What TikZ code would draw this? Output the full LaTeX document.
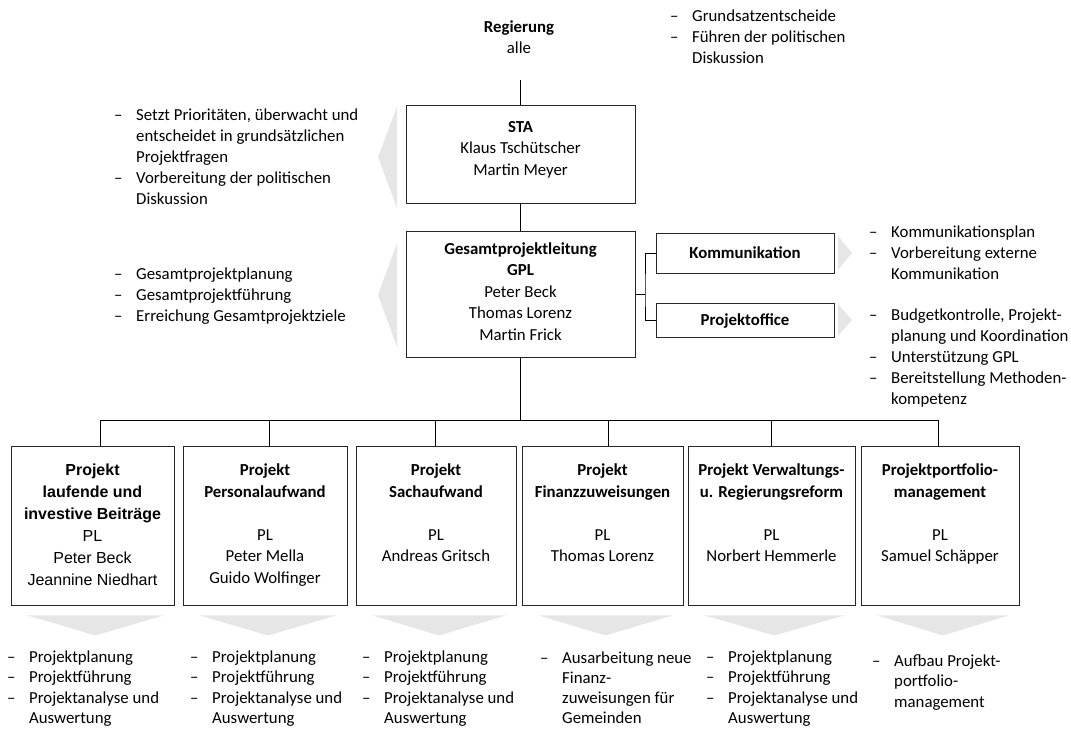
\documentclass[tikz,border=0pt]{standalone}
\usepackage{fontspec}
\setmainfont{Carlito}
\newfontfamily\arialf{Liberation Sans}
\usetikzlibrary{calc}
\newcommand\bfnt{\fontsize{16.8}{21.2}\selectfont}
\newcommand\pfnt{\fontsize{16.8}{20.6}\selectfont}
\newcommand\qfnt{\fontsize{16.8}{20.3}\selectfont}
\newcommand\boxfnt{\fontsize{16.8}{21.5}\selectfont}
\newcommand\arfnt{\arialf\fontsize{16}{22}\selectfont}
\newcommand\bi[1]{\hbox{\makebox[22pt][l]{–}#1}}
\newcommand\bc[1]{\hbox{\hspace*{22pt}#1}}
\newcommand\bls[1]{\vtop{#1}}
\newcommand\cls[1]{\begin{tabular}[t]{@{}c@{}}#1\end{tabular}}
\definecolor{shade}{RGB}{230,230,230}
\begin{document}
\begin{tikzpicture}[x=1pt,y=-1pt,
  bl/.style={anchor=base west, inner sep=0pt, font=\bfnt},
  pl/.style={anchor=base west, inner sep=0pt, font=\pfnt},
  ql/.style={anchor=base west, inner sep=0pt, font=\qfnt},
  tx/.style={anchor=base, inner sep=0pt, font=\boxfnt},
  orgbox/.style={draw=black!85, line width=0.9pt, fill=white, inner sep=0pt, minimum width=#1},
  conn/.style={draw=black, line width=0.9pt},
  chev/.style={fill=shade, draw=none}]
\useasboundingbox (0,0) rectangle (1071,729);
\fill[white] (0,0) rectangle (1071,729);

% ---------- shaded arrows ----------
\fill[chev] (397,107) -- (378,157) -- (397,208) -- cycle;
\fill[chev] (397,243) -- (378,295) -- (397,347) -- cycle;
\fill[chev] (838,236) -- (852,253) -- (838,270) -- cycle;
\fill[chev] (838,304) -- (852,320) -- (838,336) -- cycle;

% ---------- top ----------
\node[draw=none, minimum width=229pt, minimum height=80pt, inner sep=0pt] (reg) at (520.5,40) {};
\node[tx] (regt) at (519,32) {\cls{\textbf{Regierung}\\alle}};

\node[orgbox=229pt, minimum height=98pt] (sta) at (520.5,154) {};
\node[tx] (stat) at (520.5,132) {\cls{\textbf{STA}\\Klaus Tschütscher\\Martin Meyer}};

\node[orgbox=229pt, minimum height=126pt] (gpl) at (520.5,294) {};
\node[tx] (gplt) at (520.5,254) {\cls{\textbf{Gesamtprojektleitung}\\\textbf{GPL}\\Peter Beck\\Thomas Lorenz\\Martin Frick}};

\node[orgbox=178pt, minimum height=40pt] (kom) at (745,253) {};
\node[tx] (komt) at (745,258.5) {\textbf{Kommunikation}};
\node[orgbox=178pt, minimum height=34pt] (po) at (745,320) {};
\node[tx] (pot) at (745,325.5) {\textbf{Projektoffice}};

% connectors top
\draw[conn] (reg.south) -- (sta.north);
\draw[conn] (sta.south) -- (gpl.north);
\coordinate (j) at (645,294);
\draw[conn] (gpl.east) -- (j);
\draw[conn] (kom.west) -| (j) |- (po.west);

% ---------- bottom boxes ----------
\node[orgbox=163pt, minimum height=159pt] (b1) at (92.5,525.5) {};
\node[orgbox=164pt, minimum height=159pt] (b2) at (265,525.5) {};
\node[orgbox=160pt, minimum height=159pt] (b3) at (436,525.5) {};
\node[orgbox=161pt, minimum height=159pt] (b4) at (602.5,525.5) {};
\node[orgbox=167pt, minimum height=159pt] (b5) at (771.5,525.5) {};
\node[orgbox=158pt, minimum height=159pt] (b6) at (940,525.5) {};

\node[anchor=base, inner sep=0pt, font=\arfnt] (b1t) at (92.5,475.5)
  {\cls{\textbf{Projekt}\\\textbf{laufende und}\\\textbf{investive Beiträge}\\PL\\Peter Beck\\Jeannine Niedhart}};
\node[tx] (b2t) at (265,475.5) {\cls{\textbf{Projekt}\\\textbf{Personalaufwand}\\ \\PL\\Peter Mella\\Guido Wolfinger}};
\node[tx] (b3t) at (436,475.5) {\cls{\textbf{Projekt}\\\textbf{Sachaufwand}\\ \\PL\\Andreas Gritsch}};
\node[tx] (b4t) at (602.5,475.5) {\cls{\textbf{Projekt}\\\textbf{Finanzzuweisungen}\\ \\PL\\Thomas Lorenz}};
\node[tx] (b5t) at (771.5,475.5) {\cls{\textbf{Projekt Verwaltungs-}\\\textbf{u. Regierungsreform}\\ \\PL\\Norbert Hemmerle}};
\node[tx] (b6t) at (940,475.5) {\cls{\textbf{Projektportfolio-}\\\textbf{management}\\ \\PL\\Samuel Schäpper}};

% bus
\coordinate (d1) at (100,420);
\coordinate (d2) at (269,420);
\coordinate (d3) at (435,420);
\coordinate (d4) at (608,420);
\coordinate (d5) at (771,420);
\coordinate (d6) at (938,420);
\draw[conn] (gpl.south) -- (gpl.south |- d1);
\draw[conn] (d1) -- (d6);
\foreach \i in {1,...,6} { \draw[conn] (d\i) -- (d\i |- b\i.north); }

% down arrows
\foreach \i in {1,...,6} {
  \fill[chev] ($(b\i.south west)+(17,10)$) -- ($(b\i.south east)+(-11,10)$) -- ($(b\i.south)+(3,30)$) -- cycle;
}

% ---------- bullet lists ----------
\node[bl] (l0) at (670,21) {\bls{\bi{Grundsatzentscheide}\bi{Führen der politischen}\bc{Diskussion}}};
\node[bl] (l1) at (114,120) {\bls{\bi{Setzt Prioritäten, überwacht und}\bc{entscheidet in grundsätzlichen}\bc{Projektfragen}\bi{Vorbereitung der politischen}\bc{Diskussion}}};
\node[bl] (l2) at (114,279) {\bls{\bi{Gesamtprojektplanung}\bi{Gesamtprojektführung}\bi{Erreichung Gesamtprojektziele}}};
\node[bl] (l3) at (869,237) {\bls{\bi{Kommunikationsplan}\bi{Vorbereitung externe}\bc{Kommunikation}}};
\node[bl] (l4) at (869,320) {\bls{\bi{Budgetkontrolle, Projekt-}\bc{planung und Koordination}\bi{Unterstützung GPL}\bi{Bereitstellung Methoden-}\bc{kompetenz}}};

\node[pl] (p1) at (7,662) {\bls{\bi{Projektplanung}\bi{Projektführung}\bi{Projektanalyse und}\bc{Auswertung}}};
\node[pl] (p2) at (190,662) {\bls{\bi{Projektplanung}\bi{Projektführung}\bi{Projektanalyse und}\bc{Auswertung}}};
\node[pl] (p3) at (362,662) {\bls{\bi{Projektplanung}\bi{Projektführung}\bi{Projektanalyse und}\bc{Auswertung}}};
\node[ql] (p4) at (540,663) {\bls{\bi{Ausarbeitung neue}\bc{Finanz-}\bc{zuweisungen für}\bc{Gemeinden}}};
\node[pl] (p5) at (706,662) {\bls{\bi{Projektplanung}\bi{Projektführung}\bi{Projektanalyse und}\bc{Auswertung}}};
\node[pl] (p6) at (872,666) {\bls{\bi{Aufbau Projekt-}\bc{portfolio-}\bc{management}}};
\end{tikzpicture}
\end{document}
